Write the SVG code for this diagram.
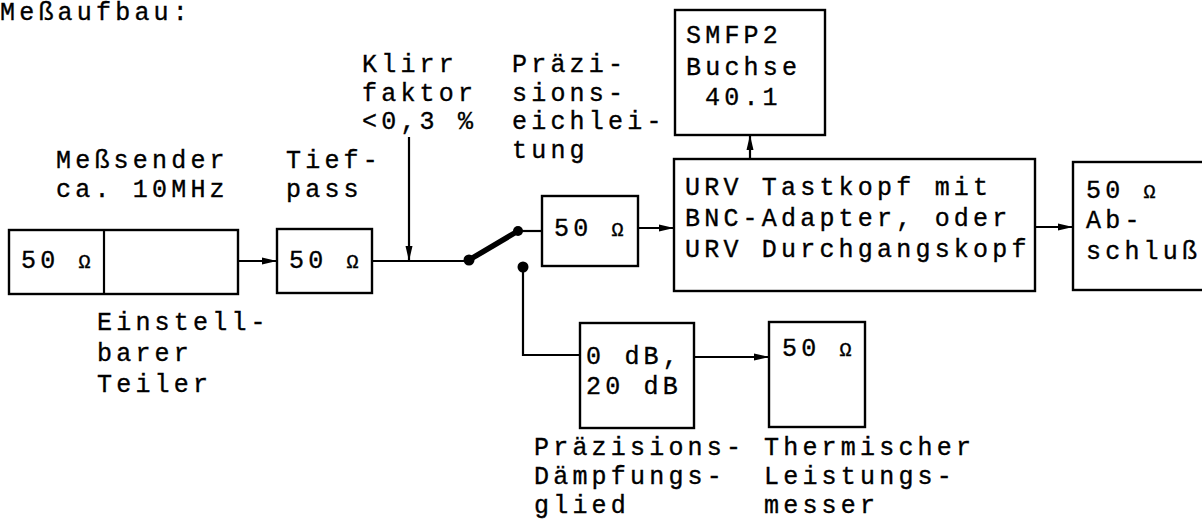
<svg xmlns="http://www.w3.org/2000/svg" width="1202" height="522" viewBox="0 0 1202 522">
<defs>
<style>
.t{font-family:"Liberation Mono","DejaVu Sans Mono",monospace;font-size:25px;letter-spacing:4.2px;fill:#000;stroke:#000;stroke-width:0.35}
.o{font-size:20px}
.b{fill:#fff;stroke:#000;stroke-width:2.4}
.c{fill:none;stroke:#000;stroke-width:2.2}
</style>
<marker id="ah" markerUnits="userSpaceOnUse" markerWidth="16" markerHeight="10" refX="15" refY="5" orient="auto">
<path d="M0,1.5 L15,5 L0,8.5 Z" fill="#000"/>
</marker>
</defs>
<rect width="1202" height="522" fill="#fff"/>
<text class="t" x="0" y="20">Meßaufbau:</text>

<g id="labels">
<text class="t" x="362" y="72">Klirr</text>
<text class="t" x="362" y="101">faktor</text>
<text class="t" x="362" y="129">&lt;0,3 %</text>
<text class="t" x="512" y="72">Präzi-</text>
<text class="t" x="512" y="101">sions-</text>
<text class="t" x="512" y="129">eichlei-</text>
<text class="t" x="512" y="158">tung</text>
<text class="t" x="56" y="168">Meßsender</text>
<text class="t" x="56" y="197">ca. 10MHz</text>
<text class="t" x="286" y="168">Tief-</text>
<text class="t" x="286" y="197">pass</text>
<text class="t" x="97" y="330">Einstell-</text>
<text class="t" x="97" y="361">barer</text>
<text class="t" x="97" y="392">Teiler</text>
<text class="t" x="534" y="455">Präzisions-</text>
<text class="t" x="534" y="484">Dämpfungs-</text>
<text class="t" x="534" y="513">glied</text>
<text class="t" x="764" y="455">Thermischer</text>
<text class="t" x="764" y="484">Leistungs-</text>
<text class="t" x="764" y="513">messer</text>
</g>

<g id="messsender">
<rect class="b" x="9" y="230" width="229" height="64"/>
<line class="c" x1="104" y1="230" x2="104" y2="294"/>
<text class="t" x="21" y="268">50 <tspan class="o">Ω</tspan></text>
</g>

<g id="tiefpass">
<rect class="b" x="277" y="229" width="95" height="64"/>
<text class="t" x="289" y="268">50 <tspan class="o">Ω</tspan></text>
</g>

<g id="eichleitung">
<rect class="b" x="542" y="196" width="96" height="70"/>
<text class="t" x="554" y="236">50 <tspan class="o">Ω</tspan></text>
</g>

<g id="smfp2">
<rect class="b" x="675" y="10" width="150" height="125"/>
<text class="t" x="686" y="43">SMFP2</text>
<text class="t" x="686" y="75">Buchse</text>
<text class="t" x="705" y="105">40.1</text>
</g>

<g id="urv">
<rect class="b" x="674" y="159" width="361" height="132"/>
<text class="t" x="685" y="195">URV Tastkopf mit</text>
<text class="t" x="685" y="226">BNC-Adapter, oder</text>
<text class="t" x="685" y="257">URV Durchgangskopf</text>
</g>

<g id="abschluss">
<rect class="b" x="1073" y="162" width="140" height="128"/>
<text class="t" x="1086" y="198">50 <tspan class="o">Ω</tspan></text>
<text class="t" x="1086" y="228">Ab-</text>
<text class="t" x="1086" y="259">schluß</text>
</g>

<g id="daempfung">
<rect class="b" x="580" y="323" width="114" height="105"/>
<text class="t" x="586" y="364">0 dB,</text>
<text class="t" x="586" y="394">20 dB</text>
</g>

<g id="thermisch">
<rect class="b" x="769" y="322" width="96" height="105"/>
<text class="t" x="782" y="356">50 <tspan class="o">Ω</tspan></text>
</g>

<g id="connectors">
<line class="c" x1="238" y1="261" x2="277" y2="261" marker-end="url(#ah)"/>
<line class="c" x1="372" y1="261" x2="469" y2="261"/>
<line class="c" x1="409" y1="137" x2="409" y2="261" marker-end="url(#ah)"/>
<line x1="469" y1="260" x2="518" y2="231" stroke="#000" stroke-width="5.5"/>
<circle cx="469" cy="260" r="5.5" fill="#000"/>
<circle cx="518" cy="231" r="5" fill="#000"/>
<line class="c" x1="518" y1="231" x2="542" y2="231"/>
<line class="c" x1="638" y1="228" x2="674" y2="228" marker-end="url(#ah)"/>
<line class="c" x1="750" y1="159" x2="750" y2="135" marker-end="url(#ah)"/>
<line class="c" x1="1035" y1="227" x2="1073" y2="227" marker-end="url(#ah)"/>
<circle cx="523" cy="267" r="5.5" fill="#000"/>
<polyline class="c" points="523,267 523,355 580,355"/>
<line class="c" x1="694" y1="357" x2="769" y2="357" marker-end="url(#ah)"/>
</g>
</svg>
